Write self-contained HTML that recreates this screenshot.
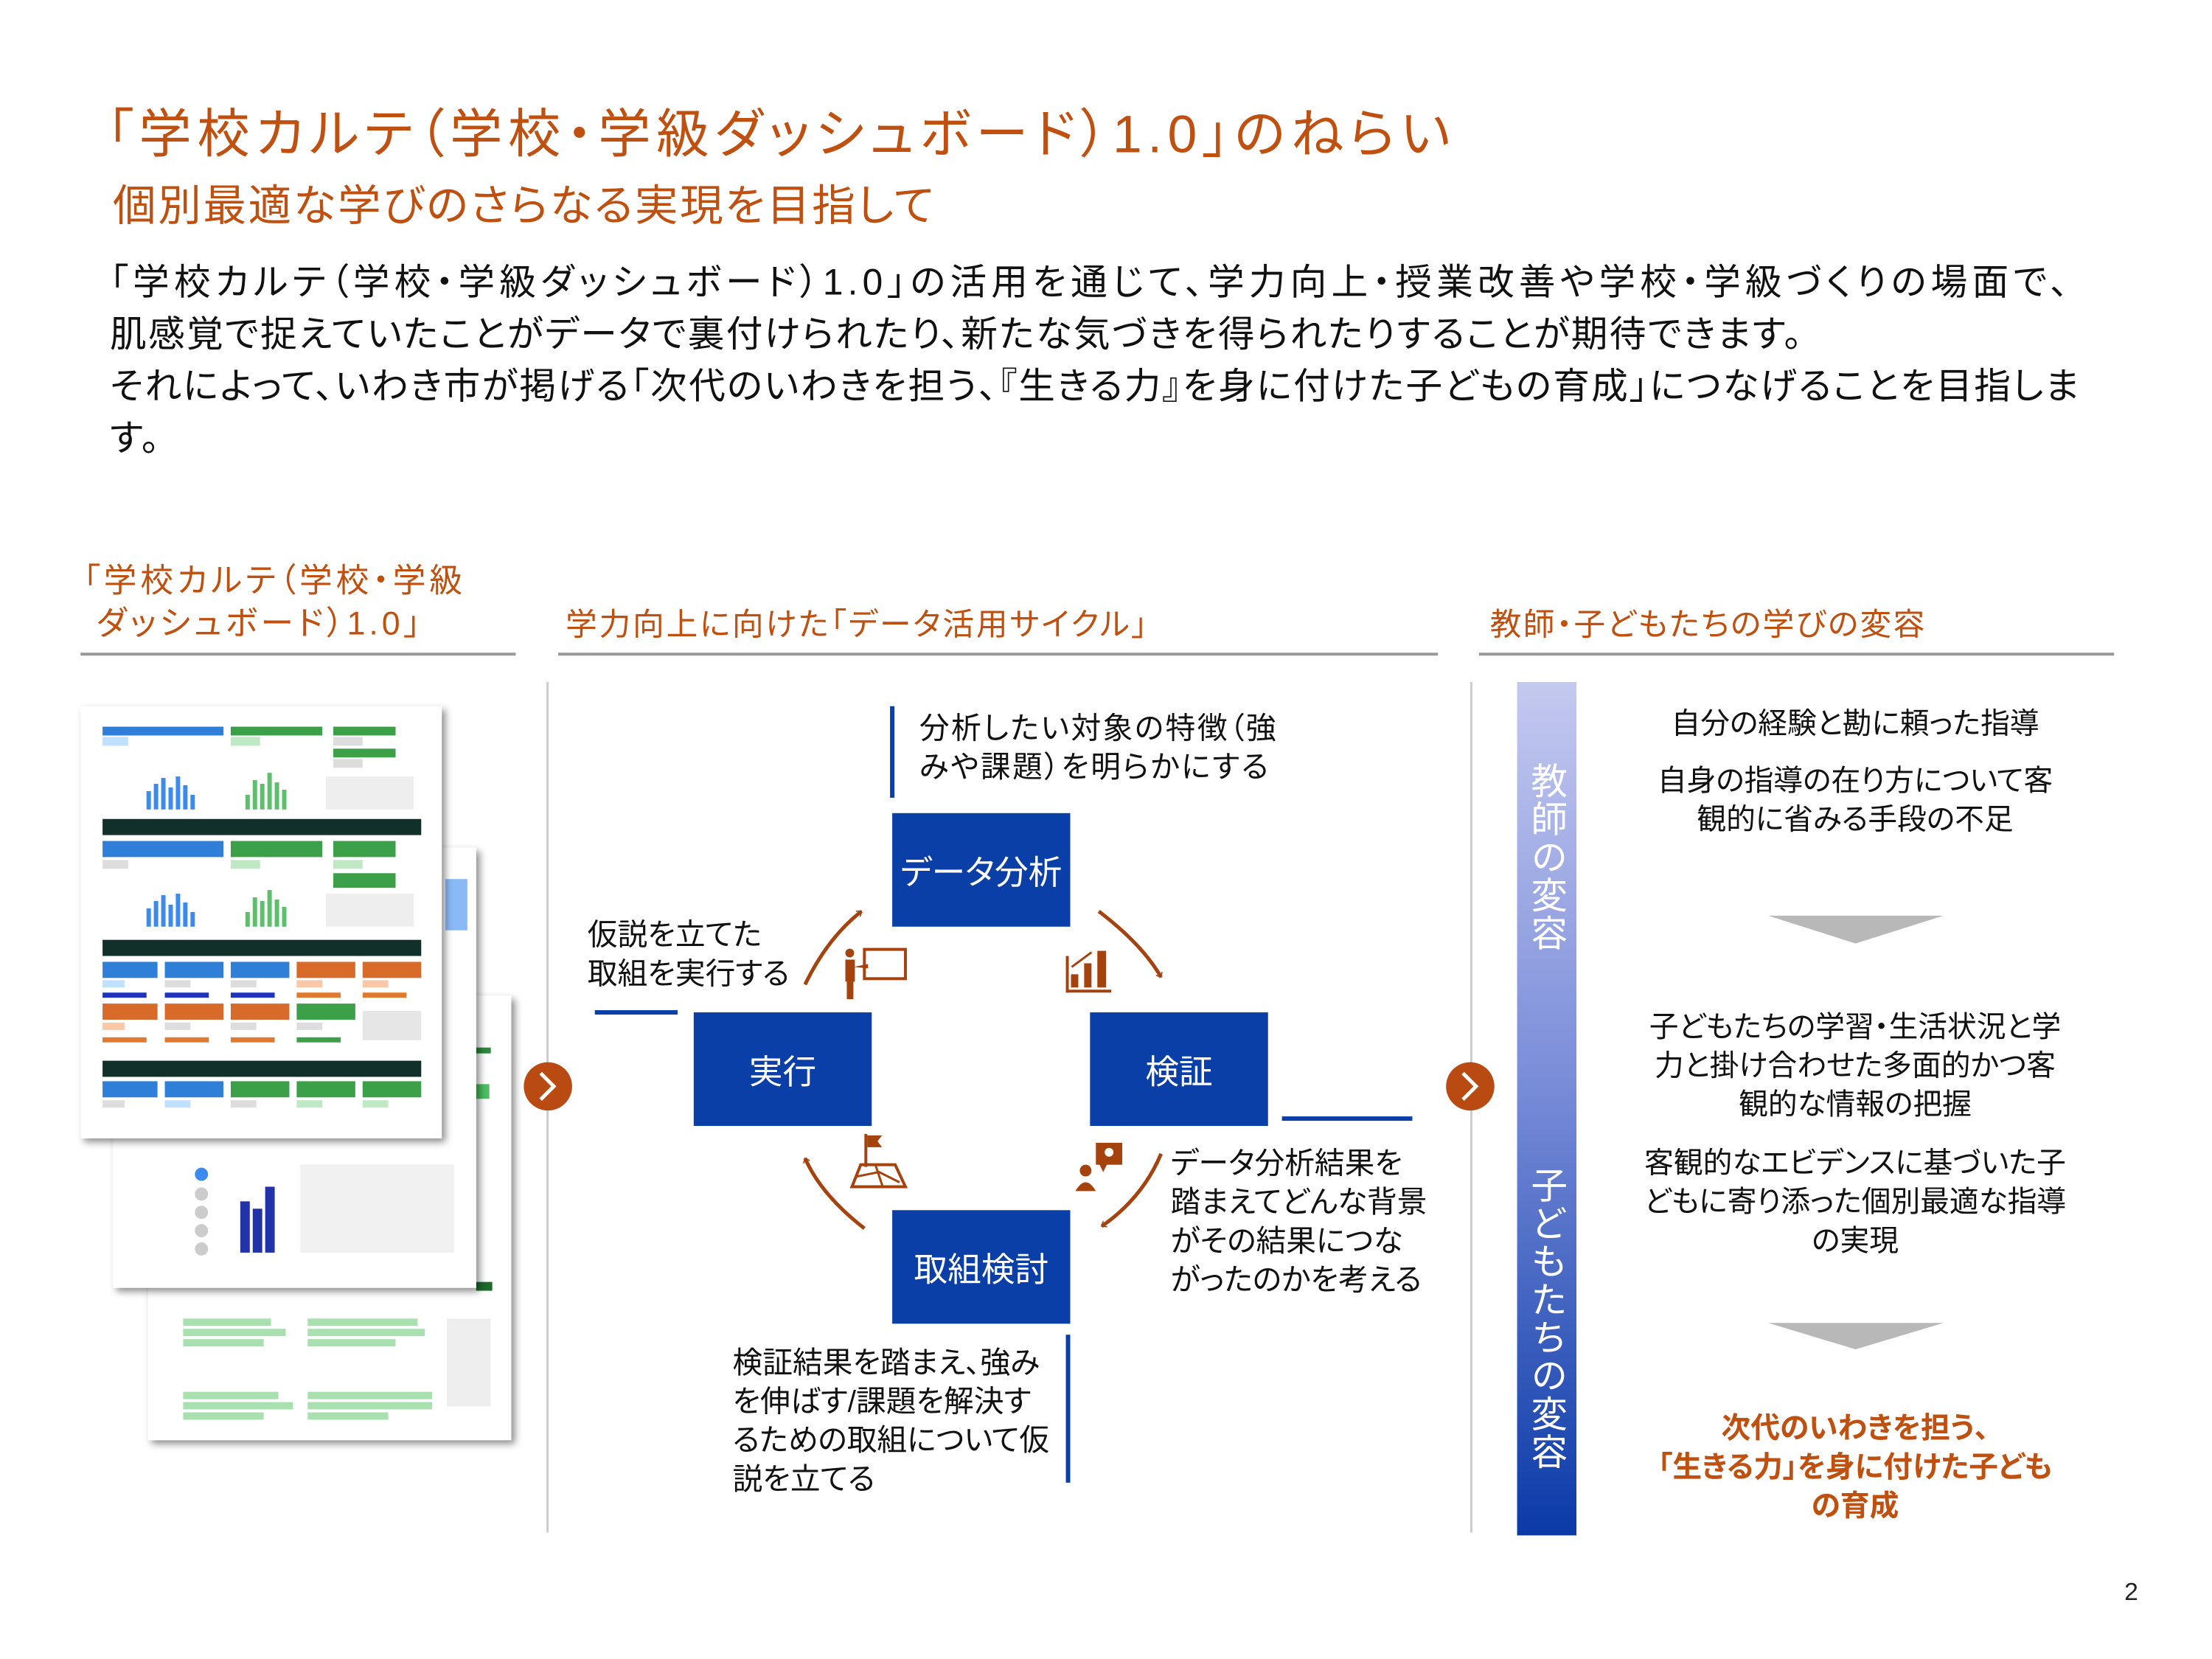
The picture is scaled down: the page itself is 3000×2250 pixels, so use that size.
<!DOCTYPE html>
<html><head><meta charset="utf-8">
<style>
html,body{margin:0;padding:0;background:#fff}
#w{width:3000px;height:2250px;overflow:hidden;position:relative}
#p{position:absolute;left:0;top:0;transform:scale(0.9935);transform-origin:0 0;width:3000px;height:2250px;overflow:hidden;background:#fff;font-family:"Liberation Sans","Noto Sans CJK JP",sans-serif;color:#111;font-feature-settings:"palt" 1}
.t{position:absolute;white-space:nowrap;line-height:1}
.or{color:#c0500f}
.box{position:absolute;background:#0a3fa8;color:#fff;font-size:46px;display:flex;align-items:center;justify-content:center}
.sm{font-size:41px;line-height:53px;position:absolute;white-space:nowrap}
.rc{position:absolute;left:2200px;width:665px;text-align:center;font-size:40px;line-height:53px;white-space:nowrap}
</style></head><body><div id="w"><div id="p">

<div class="t or" style="left:146px;top:148px;font-size:72px;letter-spacing:7.5px">「学校カルテ（学校・学級ダッシュボード）1.0」のねらい</div>
<div class="t or" style="left:154px;top:252px;font-size:59px;letter-spacing:2.6px">個別最適な学びのさらなる実現を目指して</div>
<div class="t" style="left:150px;top:350px;font-size:50px;line-height:71px;letter-spacing:2.3px"><span style="letter-spacing:6.2px">「学校カルテ（学校・学級ダッシュボード）1.0」の活用を通じて、学力向上・授業改善や学校・学級づくりの場面で、</span><br>肌感覚で捉えていたことがデータで裏付けられたり、新たな気づきを得られたりすることが期待できます。<br>それによって、いわき市が掲げる「次代のいわきを担う、『生きる力』を身に付けた子どもの育成」につなげることを目指しま<br>す。</div>

<div class="t or" style="left:114px;top:764px;font-size:45px;line-height:58px;letter-spacing:5px">「学校カルテ（学校・学級<br>&nbsp;ダッシュボード）1.0」</div>
<div class="t or" style="left:772px;top:832px;font-size:43px;letter-spacing:2.8px">学力向上に向けた「データ活用サイクル」</div>
<div class="t or" style="left:2034px;top:832px;font-size:43px;letter-spacing:2.3px">教師・子どもたちの学びの変容</div>

<svg style="position:absolute;left:0;top:0" width="3000" height="2250" viewBox="0 0 3000 2250">
<defs>
<linearGradient id="g" x1="0" y1="0" x2="0" y2="1"><stop offset="0" stop-color="#c4c9ef"/><stop offset="0.45" stop-color="#7d8fda"/><stop offset="1" stop-color="#0a3aa8"/></linearGradient>
<filter id="sh" x="-10%" y="-10%" width="125%" height="125%"><feDropShadow dx="5" dy="5" stdDeviation="5" flood-color="#000" flood-opacity="0.45"/></filter>
<marker id="ah" markerWidth="10" markerHeight="10" refX="6" refY="5" orient="auto" markerUnits="userSpaceOnUse" viewBox="0 0 10 10"><path d="M0,0 L6,5 L0,10" fill="none" stroke="#a5430f" stroke-width="1.6"/></marker>
</defs>
<rect x="110" y="891" width="594" height="4" fill="#999"/>
<rect x="762" y="891" width="1201" height="4" fill="#999"/>
<rect x="2019" y="891" width="867" height="4" fill="#999"/>
<rect x="746" y="931" width="3" height="1161" fill="#ccc"/>
<rect x="2007" y="931" width="3" height="1161" fill="#ccc"/>
<circle cx="748" cy="1483" r="33" fill="#b84a12"/><path d="M738,1465 L756,1483 L738,1501" fill="none" stroke="#fff" stroke-width="5"/>
<circle cx="2007" cy="1483" r="33" fill="#b84a12"/><path d="M1997,1465 L2015,1483 L1997,1501" fill="none" stroke="#fff" stroke-width="5"/>

<g>
<rect x="202" y="1359" width="496" height="607" fill="#fff" filter="url(#sh)"/>
<g fill="#a8e0b0">
<rect x="250" y="1800" width="120" height="10"/><rect x="250" y="1814" width="140" height="10"/><rect x="250" y="1828" width="110" height="10"/><rect x="420" y="1800" width="150" height="10"/><rect x="420" y="1814" width="160" height="10"/><rect x="420" y="1828" width="120" height="10"/>
<rect x="250" y="1900" width="130" height="10"/><rect x="250" y="1914" width="150" height="10"/><rect x="250" y="1928" width="110" height="10"/><rect x="420" y="1900" width="170" height="10"/><rect x="420" y="1914" width="170" height="10"/><rect x="420" y="1928" width="110" height="10"/>
</g>
<rect x="610" y="1800" width="60" height="120" fill="#eee"/>
<rect x="650" y="1430" width="20" height="8" fill="#2a8a3a"/><rect x="650" y="1480" width="18" height="20" fill="#4ac060"/><rect x="650" y="1750" width="22" height="12" fill="#1d6a2a"/>
</g>
<g>
<rect x="154" y="1157" width="496" height="601" fill="#fff" filter="url(#sh)"/>
<circle cx="275" cy="1603" r="9" fill="#3a8af0"/>
<g fill="#ccc"><circle cx="275" cy="1630" r="9"/><circle cx="275" cy="1655" r="9"/><circle cx="275" cy="1680" r="9"/><circle cx="275" cy="1705" r="9"/></g>
<g fill="#2233aa"><rect x="328" y="1640" width="13" height="70"/><rect x="345" y="1650" width="13" height="60"/><rect x="362" y="1620" width="13" height="90"/></g>
<rect x="410" y="1590" width="210" height="120" fill="#f1f1f1"/>
<rect x="608" y="1200" width="30" height="70" fill="#3a8af0" opacity="0.6"/>
</g>
<g>
<rect x="110" y="964" width="493" height="590" fill="#fff" filter="url(#sh)"/>
<rect x="140" y="992" width="165" height="12" fill="#2f7fd8"/><rect x="315" y="992" width="125" height="12" fill="#3ca048"/><rect x="455" y="992" width="85" height="12" fill="#3ca048"/>
<rect x="140" y="1006" width="35" height="12" fill="#bfe0ff"/><rect x="315" y="1006" width="40" height="12" fill="#bfe8c4"/><rect x="455" y="1006" width="40" height="12" fill="#ddd"/>
<rect x="455" y="1022" width="85" height="12" fill="#3ca048"/><rect x="455" y="1036" width="40" height="12" fill="#ddd"/>
<g fill="#3a8af0"><rect x="200" y="1080" width="6" height="25"/><rect x="210" y="1070" width="6" height="35"/><rect x="220" y="1062" width="6" height="43"/><rect x="230" y="1075" width="6" height="30"/><rect x="240" y="1060" width="6" height="45"/><rect x="250" y="1072" width="6" height="33"/><rect x="260" y="1085" width="6" height="20"/></g>
<g fill="#5cc06a"><rect x="335" y="1085" width="6" height="20"/><rect x="345" y="1065" width="6" height="40"/><rect x="355" y="1070" width="6" height="35"/><rect x="365" y="1055" width="6" height="50"/><rect x="375" y="1068" width="6" height="37"/><rect x="385" y="1078" width="6" height="27"/></g>
<rect x="445" y="1060" width="120" height="45" fill="#eee"/>
<rect x="140" y="1118" width="435" height="22" fill="#12302a"/>
<rect x="140" y="1148" width="165" height="22" fill="#2f7fd8"/><rect x="315" y="1148" width="125" height="22" fill="#3ca048"/><rect x="455" y="1148" width="85" height="22" fill="#3ca048"/>
<rect x="140" y="1174" width="35" height="12" fill="#ddd"/><rect x="315" y="1174" width="40" height="12" fill="#bfe8c4"/><rect x="455" y="1174" width="40" height="12" fill="#bfe8c4"/>
<rect x="455" y="1192" width="85" height="20" fill="#3ca048"/>
<g fill="#3a8af0"><rect x="200" y="1240" width="6" height="25"/><rect x="210" y="1230" width="6" height="35"/><rect x="220" y="1222" width="6" height="43"/><rect x="230" y="1235" width="6" height="30"/><rect x="240" y="1220" width="6" height="45"/><rect x="250" y="1232" width="6" height="33"/><rect x="260" y="1245" width="6" height="20"/></g>
<g fill="#5cc06a"><rect x="335" y="1245" width="6" height="20"/><rect x="345" y="1225" width="6" height="40"/><rect x="355" y="1230" width="6" height="35"/><rect x="365" y="1215" width="6" height="50"/><rect x="375" y="1228" width="6" height="37"/><rect x="385" y="1238" width="6" height="27"/></g>
<rect x="445" y="1220" width="120" height="45" fill="#eee"/>
<rect x="140" y="1283" width="435" height="22" fill="#12302a"/>
<rect x="140" y="1313" width="75" height="22" fill="#2f7fd8"/><rect x="225" y="1313" width="80" height="22" fill="#2f7fd8"/><rect x="315" y="1313" width="80" height="22" fill="#2f7fd8"/><rect x="405" y="1313" width="80" height="22" fill="#d86a2a"/><rect x="495" y="1313" width="80" height="22" fill="#d86a2a"/>
<rect x="140" y="1338" width="30" height="10" fill="#bfe0ff"/><rect x="225" y="1338" width="35" height="10" fill="#ddd"/><rect x="315" y="1338" width="35" height="10" fill="#ddd"/><rect x="405" y="1338" width="35" height="10" fill="#f8c8a8"/><rect x="495" y="1338" width="35" height="10" fill="#f8c8a8"/>
<rect x="140" y="1355" width="60" height="7" fill="#2233bb"/><rect x="225" y="1355" width="60" height="7" fill="#2233bb"/><rect x="315" y="1355" width="60" height="7" fill="#2233bb"/><rect x="405" y="1355" width="60" height="7" fill="#e07a30"/><rect x="495" y="1355" width="60" height="7" fill="#e07a30"/>
<rect x="140" y="1370" width="75" height="22" fill="#d86a2a"/><rect x="225" y="1370" width="80" height="22" fill="#d86a2a"/><rect x="315" y="1370" width="80" height="22" fill="#d86a2a"/><rect x="405" y="1370" width="80" height="22" fill="#3ca048"/>
<rect x="140" y="1396" width="30" height="10" fill="#f8c8a8"/><rect x="225" y="1396" width="35" height="10" fill="#ddd"/><rect x="315" y="1396" width="35" height="10" fill="#ddd"/><rect x="405" y="1396" width="35" height="10" fill="#ddd"/>
<rect x="140" y="1416" width="60" height="7" fill="#e07a30"/><rect x="225" y="1416" width="60" height="7" fill="#e07a30"/><rect x="315" y="1416" width="60" height="7" fill="#e07a30"/><rect x="405" y="1416" width="60" height="7" fill="#3ca048"/>
<rect x="495" y="1380" width="80" height="40" fill="#e6e6e6"/>
<rect x="140" y="1448" width="435" height="22" fill="#12302a"/>
<rect x="140" y="1476" width="75" height="22" fill="#2f7fd8"/><rect x="225" y="1476" width="80" height="22" fill="#2f7fd8"/><rect x="315" y="1476" width="80" height="22" fill="#3ca048"/><rect x="405" y="1476" width="80" height="22" fill="#3ca048"/><rect x="495" y="1476" width="80" height="22" fill="#3ca048"/>
<rect x="140" y="1502" width="30" height="10" fill="#ddd"/><rect x="225" y="1502" width="35" height="10" fill="#bfe0ff"/><rect x="315" y="1502" width="35" height="10" fill="#ddd"/><rect x="405" y="1502" width="35" height="10" fill="#bfe8c4"/><rect x="495" y="1502" width="35" height="10" fill="#bfe8c4"/>
</g>

<rect x="1215" y="964" width="6" height="125" fill="#0a3fa8"/>
<rect x="812" y="1379" width="113" height="6" fill="#0a3fa8"/>
<rect x="1750" y="1524" width="178" height="6" fill="#0a3fa8"/>
<rect x="1455" y="1822" width="6" height="202" fill="#0a3fa8"/>
<g fill="none" stroke="#a5430f" stroke-width="5" marker-end="url(#ah)">
<path d="M1099,1344 Q1130,1280 1176,1244"/>
<path d="M1500,1244 Q1560,1290 1585,1334"/>
<path d="M1585,1575 Q1560,1635 1504,1674"/>
<path d="M1180,1677 Q1120,1630 1099,1581"/>
</g>
<g fill="#a5430f">
<circle cx="1160" cy="1301" r="6"/><rect x="1154" y="1310" width="13" height="30"/><rect x="1156" y="1338" width="9" height="26"/>
<rect x="1180" y="1296" width="56" height="40" fill="none" stroke="#a5430f" stroke-width="4"/>
<path d="M1165,1320 L1185,1316 L1185,1322 Z"/>
<rect x="1455" y="1305" width="4" height="50"/><rect x="1455" y="1351" width="62" height="4"/>
<rect x="1462" y="1330" width="10" height="18"/><rect x="1480" y="1315" width="10" height="33"/><rect x="1498" y="1298" width="12" height="50"/>
<path d="M1463,1320 L1490,1300" stroke="#a5430f" stroke-width="3"/>
<circle cx="1482" cy="1598" r="8"/><path d="M1468,1626 Q1482,1602 1496,1626 Z"/>
<rect x="1496" y="1560" width="36" height="30"/><path d="M1500,1588 L1506,1600 L1512,1588Z"/><circle cx="1514" cy="1573" r="6" fill="#fff"/>
<rect x="1180" y="1548" width="4" height="45"/><path d="M1184,1550 L1204,1550 L1198,1558 L1204,1566 L1184,1566Z"/>
<path d="M1163,1620 L1236,1620 L1222,1590 L1175,1590 Z" fill="none" stroke="#a5430f" stroke-width="4"/>
<path d="M1170,1606 L1200,1600 L1228,1614 M1195,1590 L1205,1620" fill="none" stroke="#a5430f" stroke-width="3"/>
</g>

<rect x="2071" y="931" width="81" height="1165" fill="url(#g)"/>
<path d="M2414,1250 L2653,1250 L2533,1288 Z" fill="#b8b8b8"/>
<path d="M2414,1806 L2653,1806 L2533,1842 Z" fill="#b8b8b8"/>
<text x="2900" y="2184" font-size="34" font-family="Liberation Sans, sans-serif" fill="#222">2</text>
</svg>

<div class="box" style="left:1218px;top:1110px;width:243px;height:155px">データ分析</div>
<div class="box" style="left:947px;top:1382px;width:243px;height:155px">実行</div>
<div class="box" style="left:1488px;top:1382px;width:243px;height:155px">検証</div>
<div class="box" style="left:1218px;top:1652px;width:243px;height:155px">取組検討</div>

<div class="sm" style="left:1255px;top:968px;letter-spacing:2.5px">分析したい対象の特徴（強<br>みや課題）を明らかにする</div>
<div class="sm" style="left:802px;top:1250px">仮説を立てた<br>取組を実行する</div>
<div class="sm" style="left:1598px;top:1562px">データ分析結果を<br>踏まえてどんな背景<br>がその結果につな<br>がったのかを考える</div>
<div class="sm" style="left:1000px;top:1834px">検証結果を踏まえ、強み<br>を伸ばす/課題を解決す<br>るための取組について仮<br>説を立てる</div>

<div class="t" style="left:2086px;top:1040px;writing-mode:vertical-rl;font-size:50px;color:#fff;letter-spacing:2px">教師の変容</div>
<div class="t" style="left:2086px;top:1592px;writing-mode:vertical-rl;font-size:50px;color:#fff;letter-spacing:2px">子どもたちの変容</div>

<div class="rc" style="top:962px">自分の経験と勘に頼った指導</div>
<div class="rc" style="top:1040px">自身の指導の在り方について客<br>観的に省みる手段の不足</div>
<div class="rc" style="top:1376px">子どもたちの学習・生活状況と学<br>力と掛け合わせた多面的かつ客<br>観的な情報の把握</div>
<div class="rc" style="top:1562px">客観的なエビデンスに基づいた子<br>どもに寄り添った個別最適な指導<br>の実現</div>
<div class="rc or" style="top:1924px;font-weight:bold">次代のいわきを担う、<br>「生きる力」を身に付けた子ども<br>の育成</div>

</div></div></body></html>
